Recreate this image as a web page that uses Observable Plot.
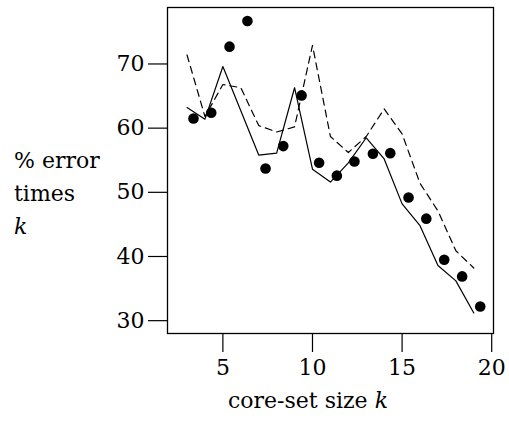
<!DOCTYPE html>
<html>
<head>
<meta charset="utf-8">
<script src="https://cdn.jsdelivr.net/npm/d3@7"></script>
<script src="https://cdn.jsdelivr.net/npm/@observablehq/plot@0.6"></script>
<style>
  html, body { margin: 0; padding: 0; background: #fff; }
  #chart { width: 509px; height: 421px; }
</style>
</head>
<body>
<div id="chart"></div>
<script>
// core-set size k (line vertices)
const k = [3, 4, 5, 6, 7, 8, 9, 10, 11, 12, 13, 14, 15, 16, 17, 18, 19];
// solid line: % error times k
const solidY = [63.2, 61.4, 69.6, 62.7, 55.8, 56.1, 66.3, 53.6, 51.6, 54.6, 58.5, 55.2, 48.2, 44.8, 38.6, 36.2, 31.2];
// dashed line: % error times k
const dashedY = [71.4, 61.8, 66.8, 66.3, 60.4, 59.4, 60.2, 72.9, 58.7, 56.2, 58.7, 63.0, 59.1, 51.4, 47.1, 40.9, 38.2];
// dots (drawn slightly to the right of each k)
const dotX = [3.36, 4.35, 5.37, 6.37, 7.38, 8.37, 9.39, 10.37, 11.36, 12.34, 13.37, 14.34, 15.36, 16.35, 17.35, 18.35, 19.36];
const dotY = [61.5, 62.4, 72.7, 76.7, 53.7, 57.2, 65.1, 54.6, 52.6, 54.8, 56.0, 56.1, 49.2, 45.9, 39.5, 36.9, 32.2];
// tick labels
const xTicks = [5, 10, 15, 20];
const yTicks = [30, 40, 50, 60, 70];
// axis texts
const xLabelText = "core-set size ";
const xLabelItalic = "k";
const yLabelLines = ["% error", "times"];
const yLabelItalic = "k";

const FONT = "'DejaVu Serif', serif";

const chart = Plot.plot({
  width: 509,
  height: 421,
  marginLeft: 167,
  marginRight: 16,
  marginTop: 7,
  marginBottom: 88,
  style: { fontFamily: FONT, fontSize: "22px", background: "white", color: "black", overflow: "visible" },
  x: { domain: [1.91, 20.1] },
  y: { domain: [28, 78.8] },
  marks: [
    Plot.axisX(xTicks, { anchor: "bottom", tickSize: 19, tickPadding: 7, label: null, fontSize: 22, strokeWidth: 1.2 }),
    Plot.axisY(yTicks, { anchor: "left", tickSize: 19, tickPadding: 4, label: null, fontSize: 22, strokeWidth: 1.2 }),
    Plot.line(k, { x: d => d, y: (d, i) => solidY[i], stroke: "black", strokeWidth: 1.2 }),
    Plot.line(k, { x: d => d, y: (d, i) => dashedY[i], stroke: "black", strokeWidth: 1.2, strokeDasharray: "7,5" }),
    Plot.dot(dotX, { x: d => d, y: (d, i) => dotY[i], r: 5.3, fill: "black", stroke: "none" }),
    Plot.frame({ stroke: "black", strokeWidth: 1.3 })
  ]
});

document.getElementById("chart").appendChild(chart);

// Axis titles with italic k
const svg = d3.select(chart);
const xl = svg.append("text")
  .attr("x", 308).attr("y", 408)
  .attr("text-anchor", "middle")
  .attr("font-family", FONT).attr("font-size", 22).attr("fill", "black");
xl.append("tspan").text(xLabelText);
xl.append("tspan").attr("font-style", "italic").text(xLabelItalic);

const yl = svg.append("text")
  .attr("text-anchor", "start")
  .attr("font-family", FONT).attr("font-size", 22).attr("fill", "black");
yLabelLines.forEach((t, i) => {
  yl.append("tspan").attr("x", 14).attr("y", 168 + i * 33).text(t);
});
yl.append("tspan").attr("x", 14).attr("y", 234).attr("font-style", "italic").text(yLabelItalic);
</script>
</body>
</html>
